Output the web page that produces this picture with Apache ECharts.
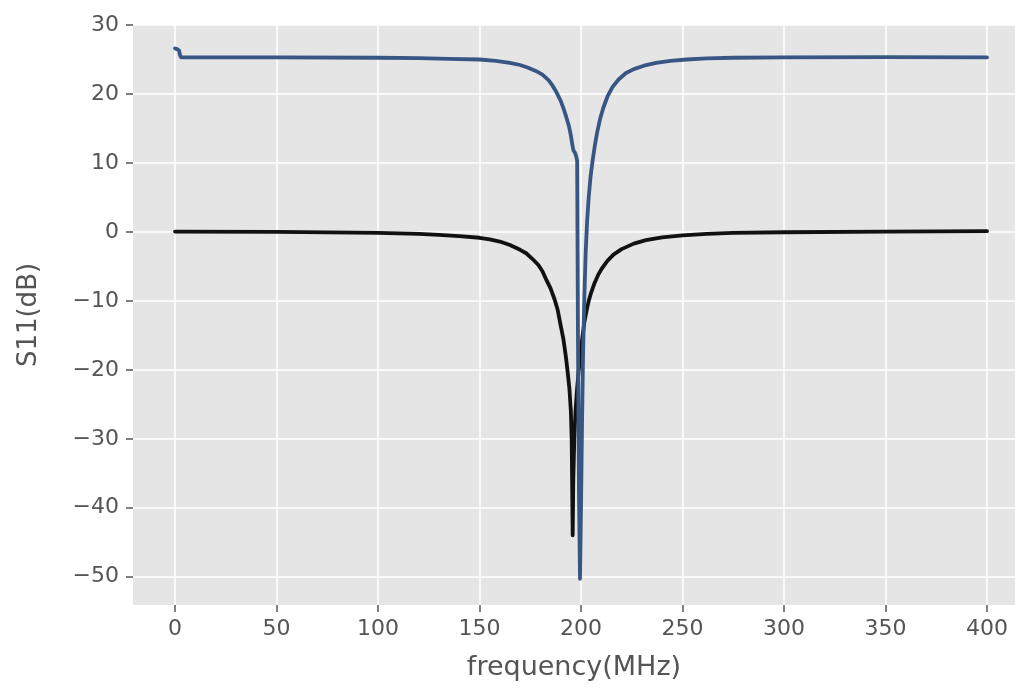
<!DOCTYPE html>
<html>
<head>
<meta charset="utf-8">
<script src="https://cdn.jsdelivr.net/npm/echarts@6/dist/echarts.min.js"></script>
<style>
html,body{margin:0;padding:0;background:#fff;}
#chart{width:1015px;height:696px;}
</style>
</head>
<body>
<div id="chart"></div>
<script>
// Frequency (MHz) and S11 (dB) samples
const blackFreq = [0, 50, 100, 110, 120, 130, 140, 150, 155, 160, 165, 170, 173, 176, 179, 181, 183, 185, 187, 188.5, 190, 191.3, 192.5, 193.5, 194.3, 195, 195.4, 195.7, 195.9, 196.2, 196.7, 197.3, 198, 198.8, 199.7, 200.7, 201.7, 202.7, 203.8, 205, 206.7, 208.5, 210.5, 213, 216, 220, 226, 232, 240, 250, 262, 275, 300, 350, 400];
const blackS11 = [0.05, 0.0, -0.15, -0.22, -0.3, -0.42, -0.6, -0.85, -1.1, -1.4, -1.9, -2.6, -3.1, -3.9, -4.8, -5.7, -7.0, -8.2, -9.8, -11.3, -13.6, -15.5, -18, -20.5, -22.8, -26, -30, -38, -44, -36, -30, -26, -23, -20.3, -17.8, -15.2, -13.0, -11.5, -10, -8.8, -7.4, -6.2, -5.2, -4.2, -3.3, -2.5, -1.7, -1.2, -0.8, -0.5, -0.3, -0.15, -0.05, 0.05, 0.1];

const blueFreq = [0, 1, 2, 2.5, 3, 50, 100, 120, 135, 150, 158, 165, 170, 174, 178, 181, 184, 186, 188, 190, 191.5, 192.8, 194, 195, 195.8, 196.3, 197.0, 197.6, 198.1, 198.5, 199.0, 199.5, 200.0, 200.5, 201.0, 201.6, 202.3, 203, 203.8, 204.7, 205.7, 206.8, 208, 209.5, 211, 213, 215.5, 218.5, 222, 226, 231, 237, 244, 252, 262, 275, 300, 350, 400];
const blueS11 = [26.6, 26.5, 26.3, 25.6, 25.3, 25.3, 25.25, 25.2, 25.1, 25.0, 24.8, 24.5, 24.2, 23.8, 23.3, 22.8, 22.0, 21.2, 20.2, 19.0, 17.8, 16.6, 15.4, 14.0, 12.5, 11.8, 11.5, 11.0, 10.3, -15, -38, -50.3, -40, -28, -18, -10, -3, 1.5, 5, 8, 10.3, 12.5, 14.5, 16.5, 18.0, 19.6, 21.0, 22.1, 23.0, 23.6, 24.1, 24.5, 24.8, 25.0, 25.15, 25.25, 25.3, 25.35, 25.3];

const xTicks = [0, 50, 100, 150, 200, 250, 300, 350, 400];
const yTicks = [-50, -40, -30, -20, -10, 0, 10, 20, 30];

const pair = (xs, ys) => xs.map((x, i) => [x, ys[i]]);

const chart = echarts.init(document.getElementById('chart'), null, {renderer: 'canvas'});
const labelColor = '#555555';
const font = 'DejaVu Sans';

chart.setOption({
  animation: false,
  backgroundColor: '#ffffff',
  grid: {
    left: 133, right: 0, top: 25, bottom: 91,
    show: true, backgroundColor: '#E5E5E5', borderWidth: 0
  },
  xAxis: {
    type: 'value',
    min: -20.7, max: 413.8,
    name: 'frequency(MHz)',
    nameLocation: 'middle',
    nameGap: 49,
    nameTextStyle: {color: labelColor, fontSize: 27, fontFamily: font},
    axisLine: {show: false, onZero: false},
    axisTick: {show: true, customValues: xTicks, length: 7, lineStyle: {color: labelColor, width: 1.5}},
    axisLabel: {customValues: xTicks, color: labelColor, fontSize: 22, fontFamily: font, margin: 13},
    splitLine: {show: true, lineStyle: {color: '#ffffff', width: 1.5}}
  },
  yAxis: {
    type: 'value',
    min: -54.1, max: 30,
    name: 'S11(dB)',
    nameLocation: 'middle',
    nameGap: 91,
    nameTextStyle: {color: labelColor, fontSize: 26, fontFamily: font},
    axisLine: {show: false, onZero: false},
    axisTick: {show: true, customValues: yTicks, length: 7, lineStyle: {color: labelColor, width: 1.5}},
    axisLabel: {
      customValues: yTicks, color: labelColor, fontSize: 22, fontFamily: font, margin: 14,
      formatter: v => String(v).replace('-', '\u2212')
    },
    splitLine: {show: true, lineStyle: {color: '#ffffff', width: 1.5}}
  },
  series: [
    {
      type: 'line', data: pair(blackFreq, blackS11), showSymbol: false, smooth: false,
      lineStyle: {color: '#111111', width: 3.8, cap: 'round', join: 'round'}
    },
    {
      type: 'line', data: pair(blueFreq, blueS11), showSymbol: false, smooth: false,
      lineStyle: {color: '#385684', width: 3.8, cap: 'round', join: 'round'}
    }
  ]
});
</script>
</body>
</html>
